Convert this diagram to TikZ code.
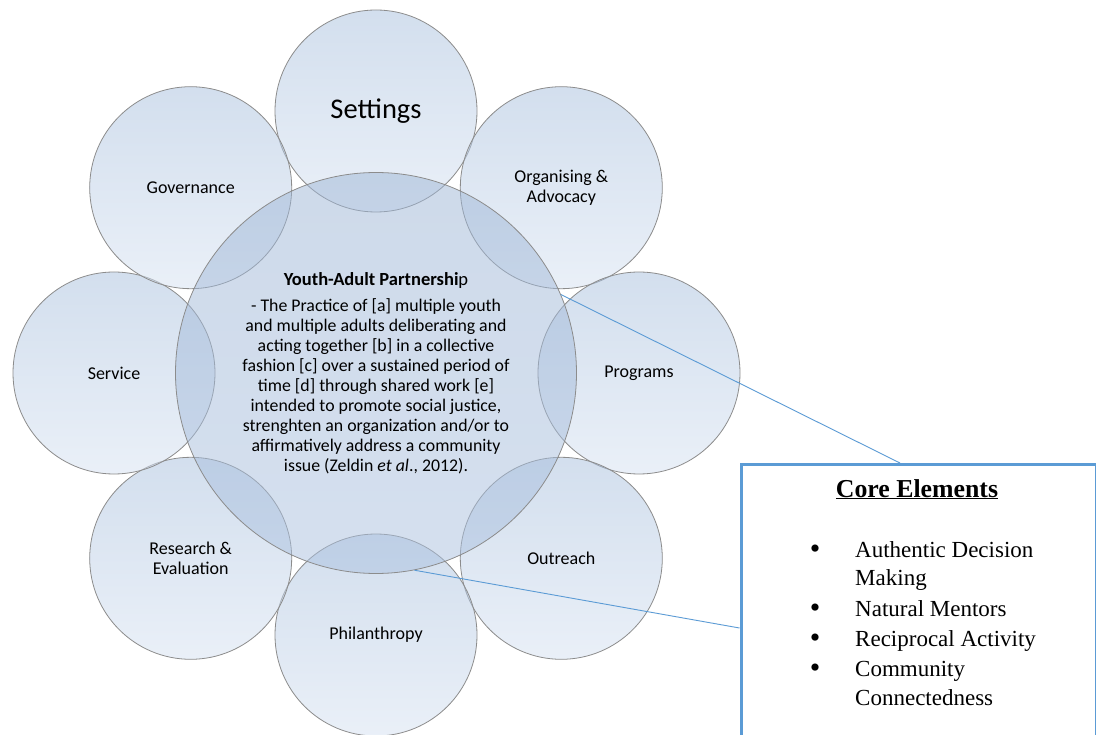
\documentclass[tikz,border=0pt]{standalone}
\usepackage{fontspec}
\setmainfont{Carlito}
\newfontfamily\tnr{Liberation Serif}
\definecolor{circline}{RGB}{140,140,140}
\definecolor{ctop}{RGB}{168,192,222}
\definecolor{cbot}{RGB}{214,226,242}
\definecolor{btop}{RGB}{158,182,214}
\definecolor{bbot}{RGB}{172,194,224}
\definecolor{boxblue}{RGB}{91,155,213}
\tikzset{
  petal/.style={circle, minimum size=202pt, inner sep=0pt, draw=circline, line width=0.8pt,
    top color=ctop, bottom color=cbot, fill opacity=0.5, draw opacity=1, text opacity=1,
    align=center, font=\fontsize{18}{20}\selectfont},
  hub/.style={circle, minimum size=401pt, inner sep=0pt, draw=circline, line width=0.8pt,
    top color=btop, bottom color=bbot, fill opacity=0.5, draw opacity=1, text opacity=1,
    align=center, font=\fontsize{17.8}{20}\selectfont},
  conn/.style={draw=boxblue, line width=0.9pt},
  corebox/.style={draw=boxblue, line width=3pt, fill=white, minimum width=355pt, minimum height=290pt, inner sep=0pt},
  boxtxt/.style={font=\tnr\fontsize{23}{28}\selectfont, inner sep=0pt},
  bul/.style={font=\tnr\fontsize{30}{30}\selectfont, inner sep=0pt},
}
\begin{document}
\begin{tikzpicture}[x=1pt,y=-1pt]
\useasboundingbox (0,0) rectangle (1096,735);
\fill[white] (0,0) rectangle (1096,735);
% outer circles
\node[petal, font=\fontsize{28.5}{32}\selectfont] (settings) at (376,111) {Settings};
\node[petal] (org) at (561.3,187.7) {Organising \&\\Advocacy};
\node[petal] (prog) at (639,373) {Programs};
\node[petal] (out) at (561.3,558.3) {Outreach};
\node[petal] (phil) at (376,635) {Philanthropy};
\node[petal] (res) at (190.7,558.3) {Research \&\\Evaluation};
\node[petal] (serv) at (114,373) {Service};
\node[petal] (gov) at (190.7,187.7) {Governance};
% central circle
\node[hub] (hub) at (376,373) {{\fontsize{18.5}{20}\selectfont\textbf{Youth-Adult Partnershi}p}\\[6pt]
- The Practice of [a] multiple youth\\
and multiple adults deliberating and\\
acting together [b] in a collective\\
fashion [c] over a sustained period of\\
time [d] through shared work [e]\\
intended to promote social justice,\\
strenghten an organization and/or to\\
affirmatively address a community\\
issue (Zeldin \textit{et al}., 2012).};
% box
\node[corebox, anchor=north west] (box) at (739.5,463) {};
\coordinate (t1) at (900,463);
\coordinate (t2) at (739.5,628);
\draw[conn] (hub.23.5) -- (t1);
\draw[conn] (hub.-79) -- (t2);
\node[boxtxt, anchor=base, font=\tnr\bfseries\fontsize{25.8}{30}\selectfont] (title) at (917,497) {\underline{Core Elements}};
\node[bul, anchor=base] (b1) at (815,558) {\textbullet};
\node[boxtxt, anchor=base west] (i1a) at (855,557) {Authentic Decision};
\node[boxtxt, anchor=base west] (i1b) at (855,585) {Making};
\node[bul, anchor=base] (b2) at (815,617) {\textbullet};
\node[boxtxt, anchor=base west] (i2) at (855,616) {Natural Mentors};
\node[bul, anchor=base] (b3) at (815,647) {\textbullet};
\node[boxtxt, anchor=base west] (i3) at (855,646) {Reciprocal Activity};
\node[bul, anchor=base] (b4) at (815,677) {\textbullet};
\node[boxtxt, anchor=base west] (i4a) at (855,676) {Community};
\node[boxtxt, anchor=base west] (i4b) at (855,705) {Connectedness};
\end{tikzpicture}
\end{document}
